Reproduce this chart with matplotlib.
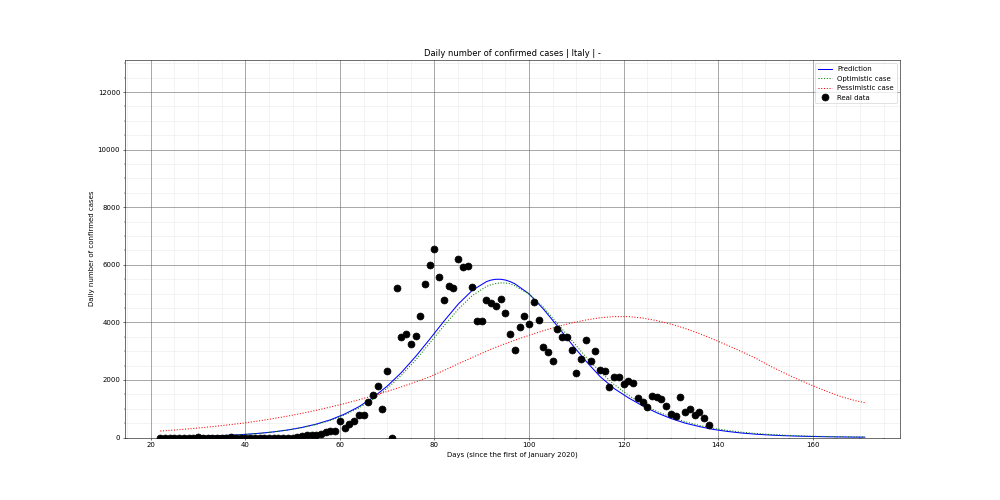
import matplotlib
matplotlib.use("Agg")
import matplotlib.pyplot as plt

# ── data ──────────────────────────────────────────────────────────────────────
real_days = list(range(22, 139))
real_cases = [0, 0, 0, 0, 0, 0, 0, 0, 2, 0, 0, 0, 0, 0, 0, 1,
              0, 0, 0, 0, 0, 0, 0, 0, 0, 0, 0, 0, 0,
              17, 42, 93, 74, 93, 131, 202, 233, 240,
              566, 342, 466, 587, 769, 778, 1247, 1492, 1797, 977, 2313,
              0, 5198, 3497, 3590, 3233, 3526, 4207, 5322, 5986, 6557,
              5560, 4789, 5249, 5210, 6203, 5909, 5974, 5217, 4050, 4053,
              4782, 4668, 4585, 4805, 4316, 3599, 3039, 3836, 4204, 3951,
              4694, 4092, 3153, 2972, 2667, 3786, 3493, 3491, 3047, 2256,
              2729, 3370, 2646, 3021, 2357, 2324, 1739, 2091, 2086, 1872,
              1965, 1900, 1389, 1221, 1075, 1444, 1401, 1327, 1083, 802,
              744, 1402, 888, 992, 789, 875, 675, 451]

curve_days = (list(range(22, 92, 3)) + [92, 93, 94, 95, 96]
              + list(range(97, 170, 3)) + [171])
prediction = [19, 25, 34, 45, 60, 81, 109, 146, 196, 262,
              350, 465, 615, 814, 1068, 1389, 1784, 2257, 2810, 3416,
              4040, 4630, 5112, 5416,
              5470, 5497, 5497, 5470, 5416,
              5340, 4990, 4470, 3870, 3250,
              2660, 2120, 1700, 1380, 1100, 860, 660, 500, 380, 280,
              210, 155, 115, 85, 63, 47, 35, 26, 19, 14, 12]
optimistic = [20, 26, 35, 46, 62, 82, 110, 146, 195, 258,
              343, 452, 595, 785, 1025, 1330, 1705, 2160, 2690, 3280,
              3880, 4450, 4930, 5250,
              5310, 5350, 5370, 5370, 5340,
              5270, 4980, 4530, 3960, 3380,
              2800, 2290, 1840, 1470, 1160, 910, 710, 550, 420, 320,
              245, 185, 140, 105, 80, 60, 45, 34, 26, 20, 16]
pessimistic = [225, 260, 300, 345, 395, 450, 510, 580, 660, 745,
               840, 945, 1060, 1180, 1310, 1450, 1600, 1760, 1930, 2110,
               2330, 2560, 2780, 3000,
               3070, 3135, 3200, 3260, 3320,
               3380, 3550, 3710, 3850, 3980,
               4080, 4160, 4200, 4200, 4150, 4060, 3940, 3790, 3610, 3410,
               3200, 2980, 2750, 2480, 2240, 2010, 1800, 1600, 1420, 1280, 1210]

# ── plot ──────────────────────────────────────────────────────────────────────
fig, ax = plt.subplots(figsize=(20, 10), dpi=50)
fig.subplots_adjust(left=0.125, right=0.9, bottom=0.125, top=0.88)

ax.plot(curve_days, prediction, "b-", label="Prediction")
ax.plot(curve_days, optimistic, "g:", label="Optimistic case")
ax.plot(curve_days, pessimistic, "r:", label="Pessimistic case")
ax.plot(real_days, real_cases, "ko", markersize=10, label="Real data")

ax.set_ylim(0, 2 * max(real_cases))
ax.set_title("Daily number of confirmed cases | Italy | -")
ax.set_xlabel("Days (since the first of January 2020)")
ax.set_ylabel("Daily number of confirmed cases")

ax.grid(which="major", color="#666666", linestyle="-")
ax.minorticks_on()
ax.grid(which="minor", color="#999999", linestyle="-", alpha=0.2)
ax.legend(loc="upper right")

fig.savefig("out.png", dpi=50)
